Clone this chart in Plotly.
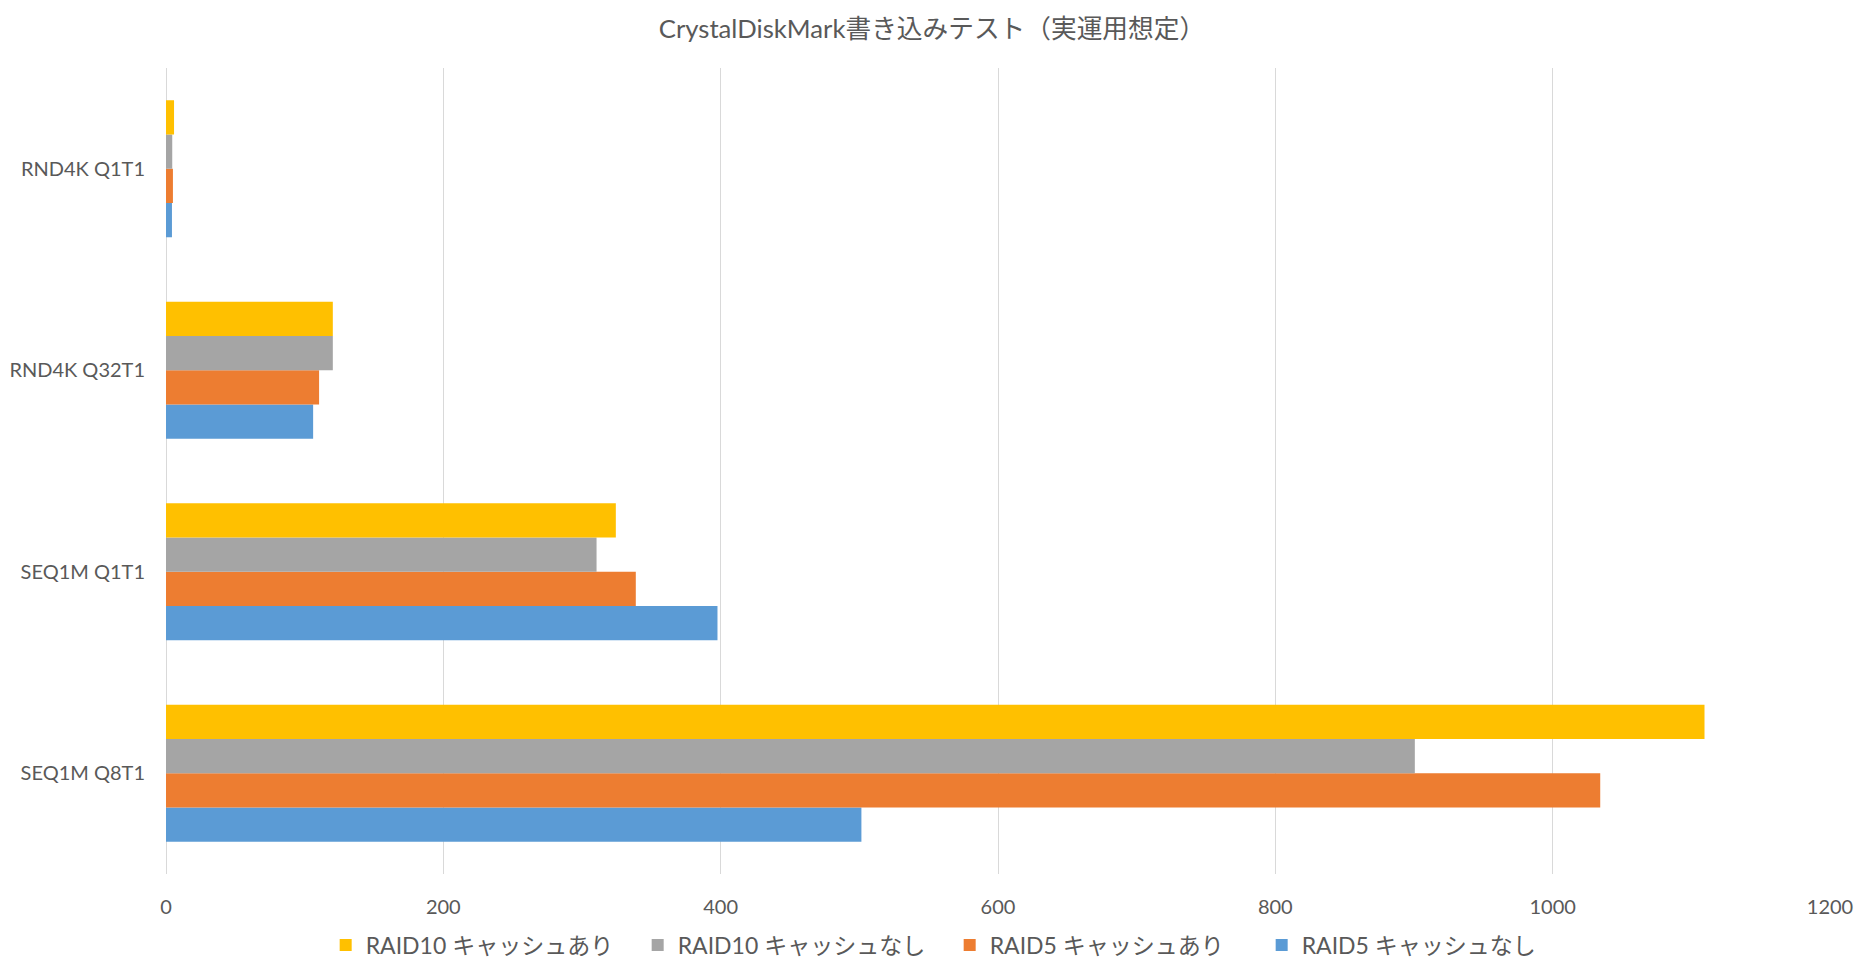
import plotly.graph_objects as go

categories = ["SEQ1M Q8T1", "SEQ1M Q1T1", "RND4K Q32T1", "RND4K Q1T1"]

raid5_nocache = [501.5, 397.7, 106.1, 4.3]
raid5_cache = [1034.3, 338.8, 110.4, 5.0]
raid10_nocache = [900.6, 310.5, 120.3, 4.5]
raid10_cache = [1109.5, 324.4, 120.3, 5.8]

series_names = ["RAID5 キャッシュなし", "RAID5 キャッシュあり", "RAID10 キャッシュなし", "RAID10 キャッシュあり"]
series_values = [raid5_nocache, raid5_cache, raid10_nocache, raid10_cache]
colors = ["#5B9BD5", "#ED7D31", "#A5A5A5", "#FFC000"]

font_family = "Lato, 'Noto Sans CJK JP', sans-serif"

fig = go.Figure()
for name, vals, col in zip(series_names, series_values, colors):
    fig.add_trace(go.Bar(
        y=categories, x=vals, name=name, orientation="h",
        marker=dict(color=col, line=dict(width=0)),
    ))

# page body adds an 8px margin, so the figure is a bit smaller than the window
fig.update_layout(
    width=1861, height=961,
    barmode="group", bargap=0.32, bargroupgap=0,
    plot_bgcolor="white", paper_bgcolor="white",
    margin=dict(l=158, r=39, t=60, b=95, autoexpand=False),
    font=dict(family=font_family, color="#595959", size=20),
    title=dict(text="CrystalDiskMark書き込みテスト（実運用想定）",
               x=0.4965, xanchor="center", y=0.978, yanchor="middle",
               font=dict(size=25.7, color="#595959")),
    legend=dict(orientation="h", traceorder="reversed",
                xref="container", yref="container",
                x=0.1707, xanchor="left", y=0.025, yanchor="middle",
                font=dict(size=23, color="#595959"),
                entrywidth=267, entrywidthmode="pixels", itemwidth=30),
    showlegend=True,
)
fig.update_xaxes(range=[0, 1200], dtick=200, showgrid=True, gridcolor="#D9D9D9",
                 gridwidth=1, zeroline=True, zerolinecolor="#D9D9D9", zerolinewidth=1,
                 showline=False, ticks="", ticklabelstandoff=19, automargin=False,
                 tickfont=dict(size=20, color="#595959"))
fig.update_yaxes(showgrid=False, showline=False, ticks="", ticklabelstandoff=20,
                 automargin=False, tickfont=dict(size=20, color="#595959"))

fig.write_html("out.html")
